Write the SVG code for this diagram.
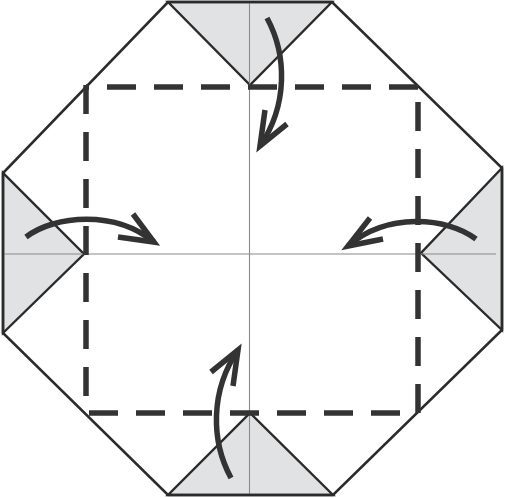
<svg xmlns="http://www.w3.org/2000/svg" width="506" height="498" viewBox="0 0 506 498">
  <defs>
    <style>
      .edge { fill: none; stroke: #2b2b2b; stroke-width: 2.6; stroke-linejoin: miter; }
      .flap { fill: #e1e2e4; stroke: #2b2b2b; stroke-width: 2.4; stroke-linejoin: miter; }
      .crease { fill: none; stroke: #8a8a8a; stroke-width: 1.1; }
      .valley { fill: none; stroke: #333333; stroke-width: 5.5; stroke-dasharray: 29 18; }
      .arrow { fill: none; stroke: #333333; stroke-width: 5.5; stroke-linecap: butt; stroke-linejoin: miter; }
    </style>
  </defs>
  <rect width="506" height="498" fill="#ffffff"/>

  <g id="paper">
    <polygon points="168,2 332,2 502,168 502,330 333,495 168,495 3,333 3,173" fill="#ffffff" stroke="none"/>
  </g>

  <g id="flaps">
    <polygon id="flap-top" class="flap" points="168,2 332,2 250,85"/>
    <polygon id="flap-left" class="flap" points="3,173 3,333 84,254"/>
    <polygon id="flap-right" class="flap" points="502,168 502,330 421,253"/>
    <polygon id="flap-bottom" class="flap" points="168,495 333,495 250,413"/>
  </g>

  <g id="creases">
    <line class="crease" x1="249.5" y1="2" x2="249.5" y2="495"/>
    <line class="crease" x1="3" y1="254" x2="496" y2="254"/>
  </g>

  <g id="outline">
    <polygon class="edge" points="168,2 332,2 502,168 502,330 333,495 168,495 3,333 3,173"/>
  </g>

  <g id="valley-square">
    <line class="valley" x1="418" y1="87" x2="86" y2="87"/>
    <line class="valley" x1="86" y1="85" x2="86" y2="413"/>
    <line class="valley" x1="89" y1="413" x2="418" y2="413"/>
    <line class="valley" x1="418" y1="413" x2="418" y2="87"/>
  </g>

  <g id="arrows">
    <g id="arrow-top">
      <path class="arrow" d="M267,18 C287,55 288,105 260,146"/>
      <polyline class="arrow" points="265,110 260,146 287,124"/>
    </g>
    <g id="arrow-bottom">
      <path class="arrow" d="M231,478 C211,441 210,391 238,350"/>
      <polyline class="arrow" points="233,386 238,350 211,372"/>
    </g>
    <g id="arrow-left">
      <path class="arrow" d="M26,237 C55,215 115,210 154,242"/>
      <polyline class="arrow" points="133,214 154,242 118,237"/>
    </g>
    <g id="arrow-right">
      <path class="arrow" d="M476,239 C447,217 387,212 348,246"/>
      <polyline class="arrow" points="370,218 348,246 383,239"/>
    </g>
  </g>
</svg>
